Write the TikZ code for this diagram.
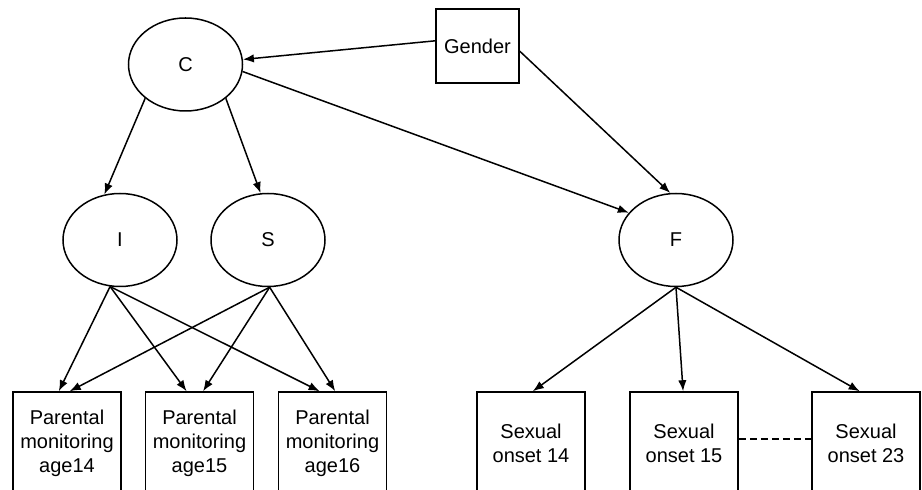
\documentclass[tikz,border=0pt]{standalone}
\usepackage{fontspec}
\setmainfont{Liberation Sans}
\usetikzlibrary{shapes.geometric,arrows.meta}

\begin{document}
\begin{tikzpicture}[x=0.5pt,y=-0.5pt,font=\fontsize{10}{12}\selectfont,line width=0.75pt,
 lat/.style={draw,ellipse,minimum width=57pt,minimum height=46.5pt,inner sep=0pt},
 obs/.style={draw,rectangle,minimum width=54pt,minimum height=51pt,align=center,inner sep=0pt},
 arr/.style={-{Latex[length=5.5pt,width=4.2pt]}}]
\useasboundingbox (0,0) rectangle (922,490);
\clip (0,0) rectangle (922,490);
% latent factors
\node[lat](C) at (185.5,64.5){C};
\node[lat](I) at (120,240){I};
\node[lat](S) at (268,240){S};
\node[lat](F) at (676,240){F};
\node[draw,minimum width=41.5pt,minimum height=37pt,inner sep=0pt](gender) at (477.5,46){Gender};
% observed measures
\node[obs](pm14) at (67,443){Parental\\monitoring\\age14};
\node[obs](pm15) at (199.5,443){Parental\\monitoring\\age15};
\node[obs](pm16) at (332.5,443){Parental\\monitoring\\age16};
\node[obs](so14) at (531,443){Sexual\\onset 14};
\node[obs](so15) at (684,443){Sexual\\onset 15};
\node[obs](so23) at (866,443){Sexual\\onset 23};
% paths
\draw[arr](gender.173)--(C.5);\draw[arr](gender.353)--(F.97);
\draw[arr](C.220)--(I.109);\draw[arr](C.320)--(S.99);\draw[arr](C.353)--(F.150);
\draw[arr](I.258)--(pm14.99);\draw[arr](I.258)--(pm15.104);\draw[arr](I.258)--(pm16.104);
\draw[arr](S.272)--(pm14.87);\draw[arr](S.272)--(pm15.86);\draw[arr](S.272)--(pm16.87);
\draw[arr](F.270)--(so14.88);\draw[arr](F.270)--(so15.91);\draw[arr](F.270)--(so23.97);
\draw[dash pattern=on 3.5pt off 2pt](so15.4)--(so23.176);
\end{tikzpicture}
\end{document}
